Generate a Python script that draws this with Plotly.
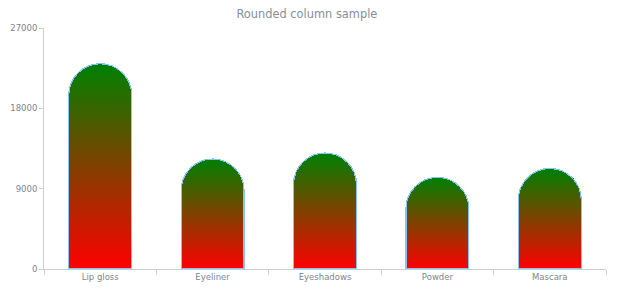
import plotly.graph_objects as go

categories = ["Lip gloss", "Eyeliner", "Eyeshadows", "Powder", "Mascara"]
values = [22998, 12321, 12998, 10261, 11261]
y_ticks = [0, 9000, 18000, 27000]
y_tick_labels = ["0", "9000", "18000", "27000"]
title_text = "Rounded column sample"

BOTTOM = (255, 0, 0)
TOP = (0, 128, 0)
N = 80
TEXT = "#7c868e"
TITLE = "#868f97"
AXIS = "#cecece"
FONT = "DejaVu Sans"

def mix(t):
    r = round(BOTTOM[0] + (TOP[0] - BOTTOM[0]) * t)
    g = round(BOTTOM[1] + (TOP[1] - BOTTOM[1]) * t)
    b = round(BOTTOM[2] + (TOP[2] - BOTTOM[2]) * t)
    return f"rgb({r},{g},{b})"

fig = go.Figure()
for i in range(N):
    fig.add_trace(go.Bar(
        x=categories, y=[v / N for v in values],
        marker=dict(color=mix((i + 0.5) / N), line=dict(width=0)),
        showlegend=False, hoverinfo="skip",
    ))

# outline
fig.add_trace(go.Bar(
    x=categories, y=values, xaxis="x2",
    marker=dict(color="rgba(0,0,0,0)", line=dict(color="#86c4f2", width=1.2)),
    showlegend=False, hoverinfo="skip",
))

fig.update_layout(
    width=620, height=300,
    margin=dict(l=44, r=14, t=28, b=31),
    paper_bgcolor="white", plot_bgcolor="white",
    barmode="stack", bargap=0.44, barcornerradius="50%",
    font=dict(family=FONT, size=8.5, color=TEXT),
    title=dict(text=title_text, x=0.495, xanchor="center", y=0.953, yanchor="middle",
               font=dict(family=FONT, size=11.4, color=TITLE)),
    xaxis=dict(type="category", showgrid=False, showline=True, linecolor=AXIS, linewidth=1,
               ticks="outside", tickson="boundaries", ticklen=5, tickcolor=AXIS,
               tickfont=dict(size=8.5, color=TEXT), zeroline=False, automargin=False),
    xaxis2=dict(type="category", overlaying="x", matches="x", visible=False),
    yaxis=dict(range=[0, 27000], tickvals=y_ticks, ticktext=y_tick_labels, showgrid=False,
               showline=True, linecolor=AXIS, linewidth=1, ticks="outside", ticklen=4,
               tickcolor=AXIS, tickfont=dict(size=8.5, color=TEXT), zeroline=False,
               automargin=False),
)

fig.write_html("out.html")
